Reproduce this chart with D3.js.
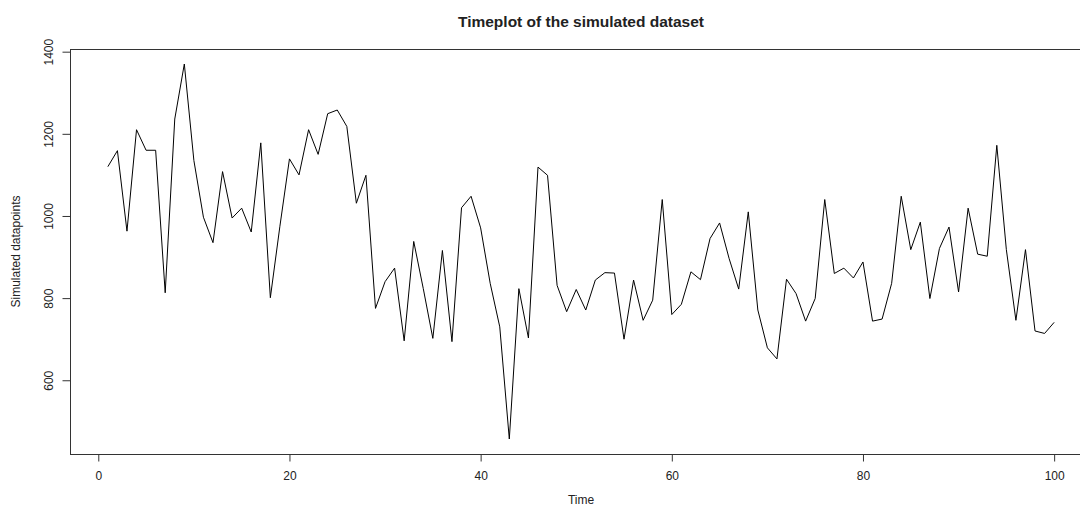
<!DOCTYPE html>
<html>
<head>
<meta charset="utf-8">
<script src="https://cdn.jsdelivr.net/npm/d3@7"></script>
<style>
html,body{margin:0;padding:0;background:#fff;}
svg{display:block;overflow:hidden;}
text{font-family:"Liberation Sans",Arial,sans-serif;fill:#222;}
</style>
</head>
<body>
<svg id="chart" width="1080" height="507"></svg>
<script>
const timeIndex = d3.range(1, 101);
const values = [
  1120,1159,963,1210,1160,1160,813,1236,1370,1135,
  997,935,1108,995,1019,961,1178,801,975,1139,
  1100,1210,1150,1249,1258,1218,1031,1099,775,840,
  873,696,938,823,702,916,694,1020,1048,971,
  836,730,457,823,703,1119,1099,831,767,821,
  771,844,862,861,700,844,746,795,1040,760,
  785,864,845,945,983,896,822,1010,771,679,
  652,846,811,744,799,1040,860,873,849,888,
  744,749,836,1048,918,985,799,921,973,815,
  1019,907,902,1172,918,746,918,720,714,741
];
const xTicks = [0,20,40,60,80,100];
const yTicks = [600,800,1000,1200,1400];
const title = "Timeplot of the simulated dataset";
const xLabel = "Time";
const yLabel = "Simulated datapoints";

const svg = d3.select("#chart");
const L = 70, R = 1092, T = 49, B = 454;

const xExt = d3.extent(timeIndex), xPad = (xExt[1]-xExt[0])*0.04;
const yExt = d3.extent(values), yPad = (yExt[1]-yExt[0])*0.04;
const x = d3.scaleLinear().domain([xExt[0]-xPad, xExt[1]+xPad]).range([L, R]);
const y = d3.scaleLinear().domain([yExt[0]-yPad, yExt[1]+yPad]).range([B, T]);

// box
svg.append("rect").attr("x", L+0.5).attr("y", T+0.5).attr("width", R-L).attr("height", B-T)
  .attr("fill","none").attr("stroke","#333").attr("stroke-width",1);

// x axis
const xAxis = svg.append("g").attr("transform", `translate(0,${B+0.5})`)
  .call(d3.axisBottom(x).tickValues(xTicks).tickSize(7).tickPadding(10).tickFormat(d3.format("d")));
xAxis.select(".domain").remove();
xAxis.selectAll(".tick line").attr("stroke","#333");
xAxis.selectAll(".tick text").attr("font-size","12px").attr("fill","#222")
  .style("font-family",'"Liberation Sans",Arial,sans-serif');

// y axis
const yAxis = svg.append("g").attr("transform", `translate(${L+0.5},0)`)
  .call(d3.axisLeft(y).tickValues(yTicks).tickSize(8).tickFormat(d3.format("d")));
yAxis.select(".domain").remove();
yAxis.selectAll(".tick line").attr("stroke","#333");
yAxis.selectAll(".tick text").remove();
yAxis.selectAll(".tick").append("text")
  .attr("transform","translate(-17.5,0) rotate(-90)")
  .attr("text-anchor","middle")
  .attr("font-size","12px").attr("fill","#222")
  .style("font-family",'"Liberation Sans",Arial,sans-serif')
  .text(d => d);

// line
const line = d3.line().x((d,i) => x(timeIndex[i])).y(d => y(d));
svg.append("path").datum(values).attr("d", line)
  .attr("fill","none").attr("stroke","#000").attr("stroke-width",1);

// title and labels
svg.append("text").attr("x", (L+R)/2).attr("y", 27).attr("text-anchor","middle")
  .attr("font-size","15.5px").attr("font-weight","bold").attr("fill","#000").text(title);
svg.append("text").attr("x", (L+R)/2).attr("y", 504).attr("text-anchor","middle")
  .attr("font-size","12px").text(xLabel);
svg.append("text").attr("transform", `translate(20,${(T+B)/2}) rotate(-90)`).attr("text-anchor","middle")
  .attr("font-size","12px").text(yLabel);
</script>
</body>
</html>
